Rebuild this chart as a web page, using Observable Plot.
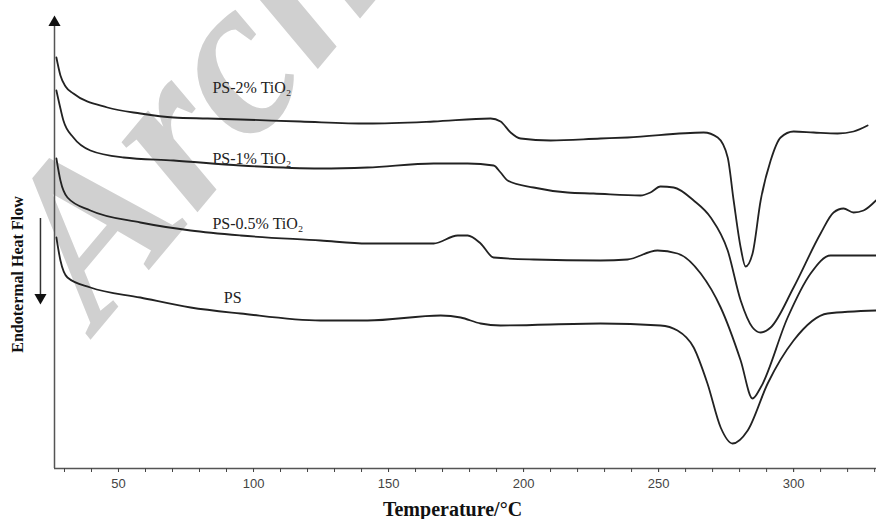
<!DOCTYPE html>
<html>
<head>
<meta charset="utf-8">
<script src="https://cdn.jsdelivr.net/npm/d3@7"></script>
<script src="https://cdn.jsdelivr.net/npm/@observablehq/plot@0.6"></script>
<style>
  html, body { margin: 0; padding: 0; background: #fff; }
  #chart { width: 876px; height: 519px; overflow: hidden; }
</style>
</head>
<body>
<div id="chart"></div>
<script>
// Temperature (°C) and relative heat-flow readings (arbitrary units, up = exo)
const ps2T = [27.0, 28.5, 30.4, 33.3, 45.9, 58.1, 70.4, 83.0, 95.2, 117.4, 142.2, 166.7, 187.8, 191.5, 195.2, 198.9, 210.0, 228.5, 238.5, 266.7, 271.9, 275.6, 277.8, 280.4, 282.2, 284.8, 287.8, 291.5, 295.2, 300.0, 307.4, 316.3, 322.2, 327.4];
const ps2V = [409, 391, 380, 373, 359, 353, 349, 348, 347, 345, 343, 345, 348, 345, 334, 328, 326, 328, 329, 334, 329, 309, 266, 219, 200, 213, 266, 306, 329, 335, 334, 333, 335, 341];

const ps1T = [27.0, 28.5, 29.6, 33.3, 39.6, 51.9, 70.4, 95.2, 124.8, 142.2, 166.7, 179.3, 188.9, 191.5, 194.1, 203.7, 216.3, 225.9, 243.3, 247.0, 250.7, 255.6, 263.0, 269.3, 275.6, 280.4, 284.8, 287.8, 291.5, 300.0, 310.0, 314.8, 318.5, 322.2, 325.9, 330.5];
const ps1V = [376, 358, 346, 329, 316, 309, 306, 301, 298, 299, 303, 303, 301, 294, 286, 279, 274, 273, 271, 274, 280, 279, 266, 249, 216, 166, 139, 134, 139, 179, 233, 254, 258, 254, 256, 266];

const ps05T = [27.0, 28.5, 31.1, 39.6, 58.1, 76.7, 95.2, 124.8, 142.2, 166.7, 175.6, 179.3, 184.1, 188.9, 203.7, 228.5, 238.5, 249.6, 257.0, 265.6, 273.0, 280.4, 284.8, 287.8, 297.8, 306.3, 313.7, 330.5];
const ps05V = [308, 286, 269, 256, 244, 236, 231, 226, 223, 223, 231, 231, 223, 209, 207, 206, 207, 216, 213, 193, 159, 106, 68, 79, 149, 193, 211, 211];

const psT = [27.0, 28.5, 31.1, 39.6, 58.1, 76.7, 95.2, 124.8, 142.2, 169.3, 176.7, 184.1, 191.5, 228.5, 250.7, 257.0, 263.0, 268.1, 273.0, 277.4, 283.0, 290.4, 300.0, 312.6, 330.5];
const psV = [229, 206, 189, 179, 169, 159, 153, 146, 146, 151, 149, 143, 141, 143, 141, 136, 119, 83, 39, 23, 36, 83, 126, 153, 156];

const seriesNames = ["PS-2% TiO₂", "PS-1% TiO₂", "PS-0.5% TiO₂", "PS"];
const labelT = [84.8, 84.8, 84.8, 89.0];
const labelV = [379, 308, 243, 169];

const xMajorTicks = [50, 100, 150, 200, 250, 300];
const xMinorTicks = d3.range(30, 331, 10);

const xTitle = "Temperature/°C";
const yTitle = "Endotermal Heat Flow";
const watermark = "Archive";

// build table
const seriesT = [ps2T, ps1T, ps05T, psT];
const seriesV = [ps2V, ps1V, ps05V, psV];
const rows = [];
seriesNames.forEach((name, i) => {
  seriesT[i].forEach((t, j) => rows.push({series: name, T: t, V: seriesV[i][j]}));
});
const labels = seriesNames.map((name, i) => ({name, T: labelT[i], V: labelV[i]}));

const xMin = 26.3, xMax = 330.7;
const arrowX = 21.1;

const plot = Plot.plot({
  width: 876,
  height: 519,
  marginLeft: 54,
  marginRight: 0,
  marginTop: 15,
  marginBottom: 51,
  x: {domain: [xMin, xMax]},
  y: {domain: [-2, 451], axis: null},
  style: {background: "#fff"},
  marks: [
    // watermark
    Plot.text([watermark], {
      x: () => 22.0, y: () => 182, text: d => d, rotate: -50,
      textAnchor: "start", fontSize: 225, fontWeight: "bold", fontStyle: "italic",
      fontFamily: "Liberation Serif", fill: "#d0d0d0"
    }),
    // axes lines
    Plot.ruleY([-2], {stroke: "#555", strokeWidth: 1.5}),
    Plot.ruleX([xMin], {y1: -2, y2: 447, stroke: "#555", strokeWidth: 1.5}),
    Plot.dot([xMin], {x: d => d, y: () => 444, symbol: "triangle", r: 4.5, fill: "#111", stroke: "none"}),
    // heat-flow direction arrow
    Plot.ruleX([arrowX], {y1: 248, y2: 170, stroke: "#333", strokeWidth: 1.5}),
    Plot.dot([arrowX], {x: d => d, y: () => 169, symbol: "triangle", rotate: 180, r: 4.5, fill: "#111", stroke: "none"}),
    // ticks
    Plot.axisX({ticks: xMinorTicks, tickSize: 4, tickFormat: () => "", stroke: "#444", label: null}),
    Plot.axisX({ticks: xMajorTicks, tickSize: 4, tickPadding: 6, tickFormat: d => d,
      fontSize: 13, fontFamily: "Liberation Sans", fill: "#444", stroke: "#444", label: null}),
    // curves
    Plot.line(rows, {x: "T", y: "V", z: "series", curve: "monotone-x", stroke: "#222", strokeWidth: 1.8}),
    // curve labels
    Plot.text(labels, {x: "T", y: "V", text: "name", textAnchor: "start",
      fontSize: 16, fontFamily: "Liberation Serif", fill: "#222"}),
    // titles
    Plot.text([xTitle], {x: () => 173.7, y: () => -43, text: d => d, fontSize: 20,
      fontWeight: "bold", fontFamily: "Liberation Serif", fill: "#111"}),
    Plot.text([yTitle], {x: () => 12.9, y: () => 192, text: d => d, rotate: -90, fontSize: 16,
      fontWeight: "bold", fontFamily: "Liberation Serif", fill: "#111"})
  ]
});
document.getElementById("chart").appendChild(plot);
</script>
</body>
</html>
